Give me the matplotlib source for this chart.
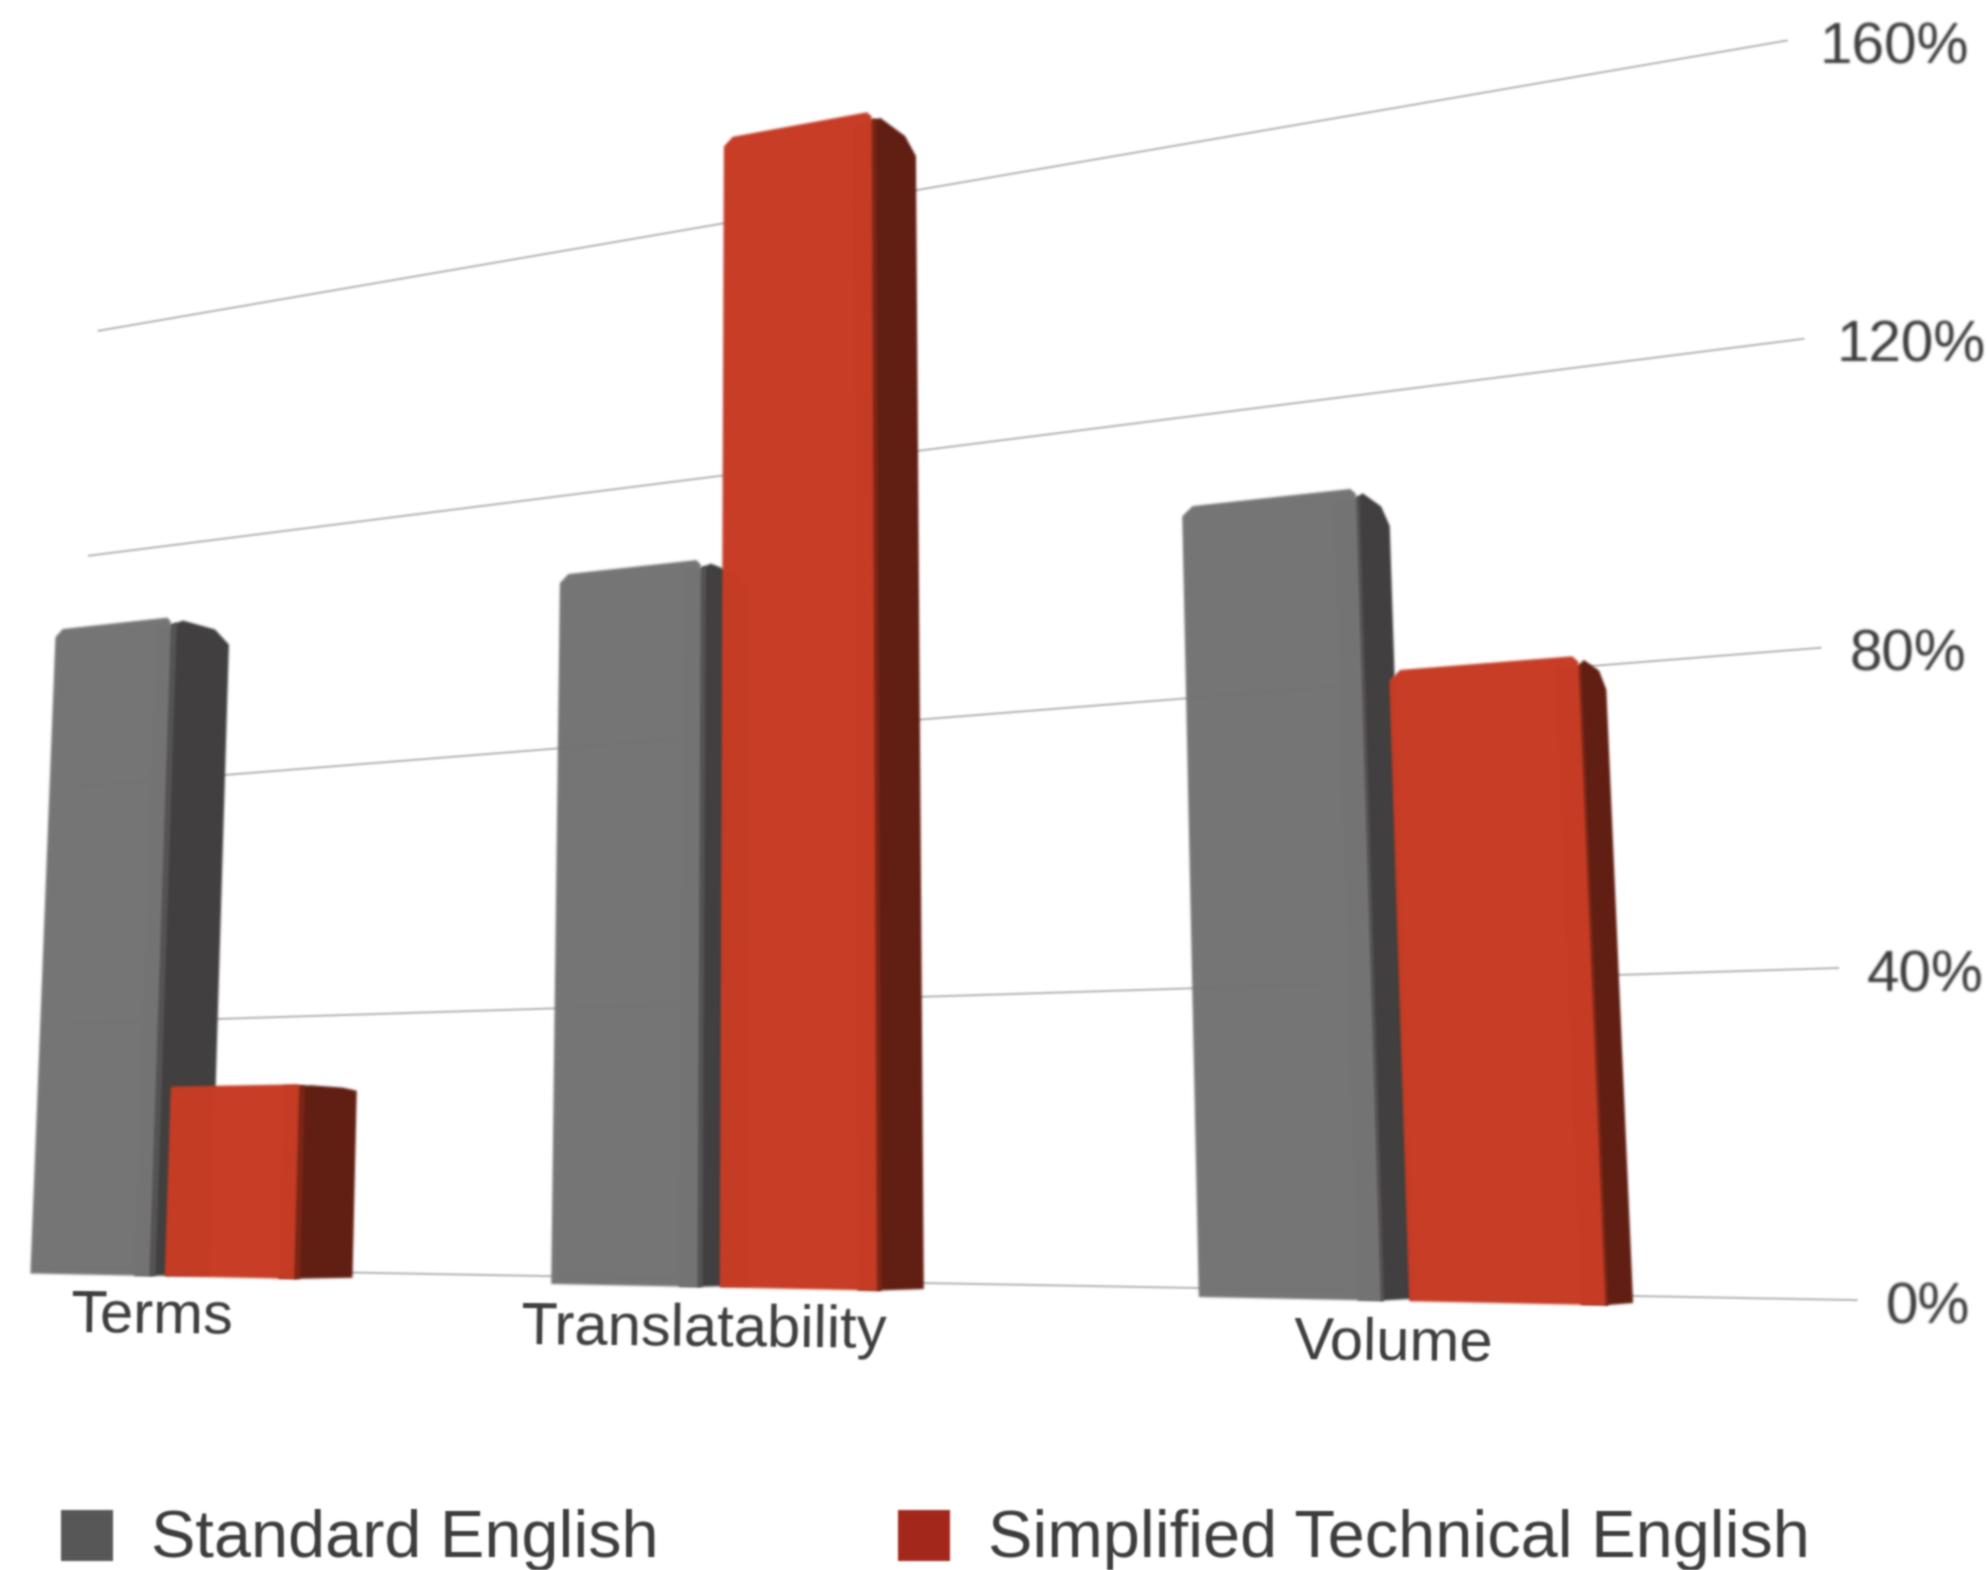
import numpy as np
import matplotlib
matplotlib.use("Agg")
import matplotlib.pyplot as plt
from matplotlib.patches import Polygon, Rectangle
from matplotlib.transforms import Transform

# ---------- data ----------
categories = ["Terms", "Translatability", "Volume"]
standard_english = [100, 100, 100]
simplified_english = [28, 161, 76.5]
tick_values = [0, 40, 80, 120, 160]
tick_labels = ["0%", "40%", "80%", "120%", "160%"]
series_names = ["Standard English", "Simplified Technical English"]

# ---------- layout (category-axis positions, 0..1 along the perspective floor) ----------
gray_left = [0.0, 0.3941, 0.7909]
gray_right = [0.0970, 0.4916, 0.8877]
red_left = [0.1093, 0.5061, 0.9024]
red_right = [0.2093, 0.6047, 1.0]
label_pos = [0.1003, 0.4963, 0.8939]
label_val = [-6.0, -5.7, -5.1]
tick_dx = [29, 29, 29, 33, 33]
W, H = 1568.0, 1239.0
GRAY, GRAY_SIDE, GRAY_EDGE = "#767575", "#403f3e", "#565554"
RED, RED_SIDE, RED_EDGE = "#c73c25", "#601d12", "#7d2616"
TEXT = "#3c3c3c"
FONT = "Liberation Sans"


def homography(quad):
    (x0, y0), (x1, y1), (x2, y2), (x3, y3) = quad
    dx1, dx2, sx = x1 - x2, x3 - x2, x0 - x1 + x2 - x3
    dy1, dy2, sy = y1 - y2, y3 - y2, y0 - y1 + y2 - y3
    det = dx1 * dy2 - dx2 * dy1
    g = (sx * dy2 - dx2 * sy) / det
    h = (dx1 * sy - sx * dy1) / det
    return np.array([[x1 - x0 + g * x1, x3 - x0 + h * x3, x0],
                     [y1 - y0 + g * y1, y3 - y0 + h * y3, y0],
                     [g, h, 1.0]])


class Perspective(Transform):
    """(category position, value) -> picture; side=u projects (depth, value) at fixed u."""
    input_dims = output_dims = 2
    has_inverse = False
    is_separable = False

    def __init__(self, quad, vmax, vanish=None, zdepth=0.0, side=None):
        super().__init__()
        self.m = homography(quad)
        self.vmax = vmax
        self.vanish = None if vanish is None else np.array([vanish[0], vanish[1], 1.0])
        self.zdepth = zdepth
        self.side = side

    def transform_non_affine(self, values):
        a = np.asarray(values, float)
        if self.side is None:
            u, z = a[:, 0], np.zeros(len(a))
        else:
            u, z = np.full(len(a), self.side), a[:, 0] * self.zdepth
        p = np.column_stack([u, a[:, 1] / self.vmax, np.ones(len(a))]) @ self.m.T
        if self.vanish is not None:
            p = p + z[:, None] * self.vanish
        return p[:, :2] / p[:, 2:3]


def blur(sigma):
    r = int(3 * sigma) + 1
    k = np.exp(-0.5 * (np.arange(-r, r + 1) / sigma) ** 2)
    k /= k.sum()

    def f(img, dpi):
        pad = 2 * r
        out = np.pad(img, ((pad, pad), (pad, pad), (0, 0))).astype(float)
        out[..., :3] *= out[..., 3:4]
        out = np.apply_along_axis(lambda c: np.convolve(c, k, "same"), 0, out)
        out = np.apply_along_axis(lambda c: np.convolve(c, k, "same"), 1, out)
        a = np.clip(out[..., 3:4], 1e-4, 1)
        out[..., :3] = np.clip(out[..., :3] / a, 0, 1)
        return out, -pad, -pad
    return f


BAR_QUAD = [(24, 1005), (1267, 1030), (1239, 367), (44, 497)]
GRID_QUAD = [(46, 1000), (1465, 1026), (1410, 32), (78, 261)]
VANISH = (1900, 980)
DEPTH = 0.027

fig = plt.figure(figsize=(19.87, 15.70), dpi=100)
ax = fig.add_axes([0, 0, 1, 1])
ax.set_xlim(0, W)
ax.set_ylim(H, 0)
ax.axis("off")

bar_tf = Perspective(BAR_QUAD, 100) + ax.transData
grid_tf = Perspective(GRID_QUAD, 160) + ax.transData

# gridlines and axis labels
for v, lab, dx in zip(tick_values, tick_labels, tick_dx):
    ln, = ax.plot([0, 1], [v, v], color="#bdbdbd", lw=1.6, transform=grid_tf, zorder=1, clip_on=False)
    ln.set_agg_filter(blur(0.9))
    t = ax.annotate(lab, xy=(1, v), xycoords=grid_tf, xytext=(dx, -8), textcoords="offset pixels",
                    ha="left", va="center", fontsize=42, family=FONT, color=TEXT, zorder=5)
    t.set_agg_filter(blur(0.9))


def draw_bar(u0, u1, value, front, side, edge, z, du, dv):
    side_tf = Perspective(BAR_QUAD, 100, VANISH, DEPTH, side=u1) + ax.transData
    # a strip under the front face's right edge, so front and side meet without a seam
    b = Polygon([(u1 - 0.012, 0), (u1 + 0.001, 0), (u1 + 0.001, value - dv), (u1 - 0.012, value - dv)], closed=True,
                facecolor=edge, edgecolor="none", transform=bar_tf, zorder=z, clip_on=False)
    s = Polygon([(0, 0), (1, 0), (1, value - 1.5 * dv), (0.75, value), (0.2, value), (0, value - dv)], closed=True,
                facecolor=side, edgecolor="none", transform=side_tf, zorder=z, clip_on=False)
    e = Polygon([(0, 0), (0.1, 0), (0.1, value - 0.5 * dv), (0, value - dv)], closed=True, facecolor=edge,
                edgecolor="none", transform=side_tf, zorder=z, clip_on=False)
    f = Polygon([(u0, 0), (u1, 0), (u1, value - 0.6 * dv), (u1 - 0.5 * du, value), (u0 + du, value), (u0, value - dv)],
                closed=True, facecolor=front, edgecolor="none", transform=bar_tf, zorder=z, clip_on=False)
    for p in (b, s, e, f):
        ax.add_patch(p)
        p.set_agg_filter(blur(1.3))


for i in range(len(categories)):
    draw_bar(gray_left[i], gray_right[i], standard_english[i], GRAY, GRAY_SIDE, GRAY_EDGE, 2 + i, 0.006, 1.2)
    draw_bar(red_left[i], red_right[i], simplified_english[i], RED, RED_SIDE, RED_EDGE, 2.5 + i,
             0.006 if simplified_english[i] > 50 else 0.001, 1.2 if simplified_english[i] > 50 else 0.2)
    t = ax.text(label_pos[i], label_val[i], categories[i], transform=bar_tf, ha="center", va="center",
                fontsize=43, family=FONT, color=TEXT, zorder=6, rotation=-0.6)
    t.set_agg_filter(blur(0.9))

# legend
for x, col, name in zip([48, 709], ["#595757", "#a4281c"], series_names):
    r = Rectangle((x, 1192), 41, 40, facecolor=col, edgecolor="none", zorder=6)
    ax.add_patch(r)
    r.set_agg_filter(blur(1.0))
    t = ax.text(x + 71, 1215.5, name, ha="left", va="center", fontsize=48, family=FONT,
                color=TEXT, zorder=6)
    t.set_agg_filter(blur(0.9))

fig.savefig("out.png", dpi=100, facecolor="white")
